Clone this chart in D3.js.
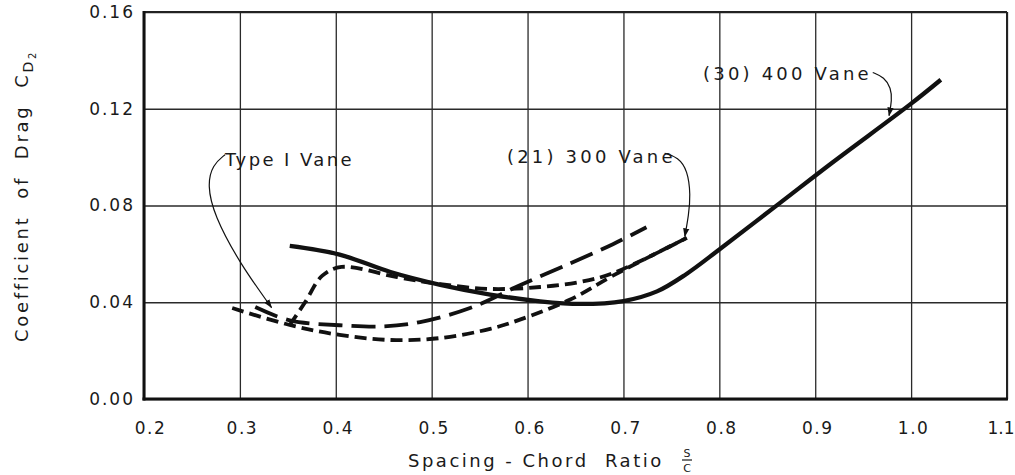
<!DOCTYPE html>
<html>
<head>
<meta charset="utf-8">
<script src="https://cdn.jsdelivr.net/npm/d3@7"></script>
<style>
  html, body { margin: 0; padding: 0; background: #fff; }
  svg text { font-family: "DejaVu Sans", sans-serif; fill: #1a1a1a; white-space: pre; }
</style>
</head>
<body>
<svg id="chart" width="1015" height="475"></svg>
<script>
// Spacing-chord ratio s/c (x) against drag coefficient C_D2 (y) for three turning vanes.
const spacingTicks = [0.2, 0.3, 0.4, 0.5, 0.6, 0.7, 0.8, 0.9, 1.0, 1.1];
const spacingTickLabels = ["0.2", "0.3", "0.4", "0.5", "0.6", "0.7", "0.8", "0.9", "1.0", "1.1"];
const dragTicks = [0.00, 0.04, 0.08, 0.12, 0.16];
const dragTickLabels = ["0.00", "0.04", "0.08", "0.12", "0.16"];

// (30) 400 vane - solid curve
const vane400Spacing = [0.352, 0.404, 0.457, 0.509, 0.561, 0.613, 0.655, 0.700, 0.735, 0.765, 0.800, 0.863, 0.918, 0.999, 1.031];
const vane400Drag    = [0.0633, 0.0597, 0.0525, 0.0472, 0.0432, 0.0404, 0.0393, 0.0405, 0.0445, 0.0515, 0.0618, 0.0810, 0.0978, 0.1218, 0.1320];

// Type I vane - long dashes
const typeISpacing = [0.316, 0.352, 0.404, 0.450, 0.488, 0.540, 0.592, 0.644, 0.689, 0.724];
const typeIDrag    = [0.0380, 0.0325, 0.0305, 0.0300, 0.0318, 0.0376, 0.0470, 0.0560, 0.0640, 0.0710];

// (21) 300 vane - short dashes, lower branch
const vane300LowSpacing = [0.292, 0.352, 0.404, 0.457, 0.509, 0.561, 0.592, 0.644, 0.689, 0.766];
const vane300LowDrag    = [0.0376, 0.0306, 0.0265, 0.0244, 0.0252, 0.0290, 0.0328, 0.0410, 0.0510, 0.0666];

// (21) 300 vane - short dashes, upper branch
const vane300HighSpacing = [0.352, 0.368, 0.386, 0.406, 0.464, 0.509, 0.561, 0.613, 0.655, 0.689, 0.766];
const vane300HighDrag    = [0.0306, 0.0400, 0.0510, 0.0546, 0.0504, 0.0475, 0.0455, 0.0463, 0.0484, 0.0520, 0.0666];

// Curve labels and their leader lines (data units)
const labelTypeI = "Type I Vane";
const labelTypeIAt = [0.2845, 0.0962];
const leaderTypeI = [[0.2845, 0.1010], [0.2715, 0.0968], [0.2660, 0.0885], [0.2730, 0.0760], [0.3000, 0.0560], [0.3330, 0.0378]];

const label300 = "(21) 300 Vane";
const label300At = [0.5785, 0.0976];
const leader300 = [[0.7430, 0.1016], [0.7570, 0.1000], [0.7670, 0.0945], [0.7700, 0.0843], [0.7680, 0.0760], [0.7640, 0.0672]];

const label400 = "(30) 400 Vane";
const label400At = [0.7830, 0.1319];
const leader400 = [[0.9600, 0.1350], [0.9720, 0.1330], [0.9790, 0.1286], [0.9800, 0.1236], [0.9770, 0.1172]];

const width = 1015, height = 475;
const margin = { top: 12, right: 8, bottom: 76, left: 144 };
const innerW = width - margin.left - margin.right;
const innerH = height - margin.top - margin.bottom;

const svg = d3.select("#chart");
const g = svg.append("g").attr("transform", `translate(${margin.left},${margin.top})`);

const x = d3.scaleLinear().domain([0.2, 1.1]).range([0, innerW]);
const y = d3.scaleLinear().domain([0, 0.16]).range([innerH, 0]);

// grid
const xGrid = g.append("g").attr("transform", `translate(0,${innerH})`)
  .call(d3.axisBottom(x).tickValues(spacingTicks).tickSize(-innerH).tickFormat(""));
xGrid.select(".domain").remove();
xGrid.selectAll("line").attr("stroke", "#2a2a2a").attr("stroke-width", 1.3);

const yGrid = g.append("g")
  .call(d3.axisLeft(y).tickValues(dragTicks).tickSize(-innerW).tickFormat(""));
yGrid.select(".domain").remove();
yGrid.selectAll("line").attr("stroke", "#2a2a2a").attr("stroke-width", 1.3);

// frame
g.append("line").attr("x1", 0).attr("x2", innerW).attr("y1", 0).attr("y2", 0)
  .attr("stroke", "#222").attr("stroke-width", 2);
g.append("line").attr("x1", innerW).attr("x2", innerW).attr("y1", 0).attr("y2", innerH)
  .attr("stroke", "#222").attr("stroke-width", 2);
g.append("line").attr("x1", 0).attr("x2", 0).attr("y1", -1).attr("y2", innerH + 1.5)
  .attr("stroke", "#111").attr("stroke-width", 3);
g.append("line").attr("x1", -1.5).attr("x2", innerW + 1).attr("y1", innerH).attr("y2", innerH)
  .attr("stroke", "#111").attr("stroke-width", 3);

// tick labels
const lastX = spacingTicks.length - 1;
const xLabels = g.append("g").attr("transform", `translate(0,${innerH})`)
  .call(d3.axisBottom(x).tickValues(spacingTicks).tickSize(0).tickPadding(23)
    .tickFormat((d, i) => spacingTickLabels[i]));
xLabels.select(".domain").remove();
xLabels.selectAll("text").attr("font-size", 17).attr("letter-spacing", 1.5)
  .attr("font-family", "DejaVu Sans").attr("fill", "#1a1a1a")
  .attr("dx", (d, i) => i === 0 ? 6 : 2)
  .filter((d, i) => i === lastX)
  .attr("text-anchor", "end").attr("letter-spacing", 0).attr("dx", 7);

const yLabels = g.append("g")
  .call(d3.axisLeft(y).tickValues(dragTicks).tickSize(0).tickPadding(9)
    .tickFormat((d, i) => dragTickLabels[i]));
yLabels.select(".domain").remove();
yLabels.selectAll("text").attr("font-size", 17).attr("letter-spacing", 2)
  .attr("font-family", "DejaVu Sans").attr("fill", "#1a1a1a");

// curves
const line = d3.line().x(d => x(d[0])).y(d => y(d[1])).curve(d3.curveCatmullRom.alpha(0.5));
const zipSeries = (xs, ys) => xs.map((v, i) => [v, ys[i]]);

const series = [
  { pts: zipSeries(vane300LowSpacing, vane300LowDrag), dash: "12 6", w: 3.8 },
  { pts: zipSeries(vane300HighSpacing, vane300HighDrag), dash: "12 6", w: 3.8 },
  { pts: zipSeries(typeISpacing, typeIDrag), dash: "24 9", w: 3.8 },
  { pts: zipSeries(vane400Spacing, vane400Drag), dash: null, w: 4.3 }
];
g.selectAll("path.curve").data(series).join("path")
  .attr("class", "curve")
  .attr("d", d => line(d.pts))
  .attr("fill", "none")
  .attr("stroke", "#111")
  .attr("stroke-width", d => d.w)
  .attr("stroke-dasharray", d => d.dash)
  .attr("stroke-linecap", "butt");

// leaders with arrowheads
svg.append("defs").append("marker")
  .attr("id", "arrow").attr("viewBox", "0 0 10 10").attr("refX", 9).attr("refY", 5)
  .attr("markerWidth", 9).attr("markerHeight", 9).attr("markerUnits", "userSpaceOnUse")
  .attr("orient", "auto")
  .append("path").attr("d", "M0,1.5 L10,5 L0,8.5 Z").attr("fill", "#111");

const leaderLine = d3.line().x(d => x(d[0])).y(d => y(d[1])).curve(d3.curveBasis);
[leaderTypeI, leader300, leader400].forEach(pts => {
  g.append("path").attr("d", leaderLine(pts)).attr("fill", "none")
    .attr("stroke", "#111").attr("stroke-width", 1.2).attr("marker-end", "url(#arrow)");
});

// curve labels
const annotate = (txt, at, ls) => g.append("text")
  .attr("x", x(at[0])).attr("y", y(at[1]))
  .attr("font-size", 18).attr("letter-spacing", ls).text(txt);
annotate(labelTypeI, labelTypeIAt, 2.4);
annotate(label300, label300At, 3.2);
annotate(label400, label400At, 3.2);

// axis titles
const yTitle = svg.append("text")
  .attr("transform", "translate(28,196) rotate(-90)")
  .attr("text-anchor", "middle").attr("font-size", 18).attr("letter-spacing", 2.7);
yTitle.append("tspan").text("Coefficient  of  Drag  C");
yTitle.append("tspan").attr("font-size", 14).attr("dy", 5).text("D");
yTitle.append("tspan").attr("font-size", 10).attr("dy", 3).text("2");

const xTitle = svg.append("g");
xTitle.append("text").attr("x", 408).attr("y", 467)
  .attr("font-size", 18).attr("letter-spacing", 2.5).text("Spacing - Chord  Ratio");
xTitle.append("text").attr("x", 687).attr("y", 457).attr("text-anchor", "middle")
  .attr("font-size", 11).text("S");
xTitle.append("line").attr("x1", 682).attr("x2", 692).attr("y1", 460).attr("y2", 460)
  .attr("stroke", "#1a1a1a").attr("stroke-width", 1.2);
xTitle.append("text").attr("x", 687).attr("y", 472).attr("text-anchor", "middle")
  .attr("font-size", 11).text("C");
</script>
</body>
</html>
